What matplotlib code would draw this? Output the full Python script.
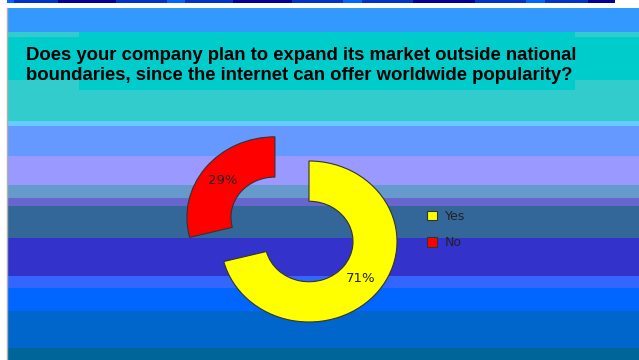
import matplotlib
matplotlib.use('Agg')
import matplotlib.pyplot as plt
from matplotlib.patches import Rectangle

# survey answers
labels = ['Yes', 'No']
shares = [71, 29]
slice_colors = ['#FFFF00', '#FF0000']
question = ('Does your company plan to expand its market outside national\n'
            'boundaries, since the internet can offer worldwide popularity?')

# background stripes: (top, bottom, colour) in pixels
stripes = [
    (8, 32, '#3399FF'),
    (32, 37, '#33CCCC'),
    (37, 80, '#00CCCC'),
    (80, 121, '#33CCCC'),
    (121, 126, '#66CCFF'),
    (126, 156, '#6699FF'),
    (156, 185, '#9999FF'),
    (185, 198, '#6699CC'),
    (198, 206, '#6666CC'),
    (206, 238, '#336699'),
    (238, 276, '#3333CC'),
    (276, 288, '#3366FF'),
    (288, 311, '#0066FF'),
    (311, 348, '#0066CC'),
    (348, 360, '#006699'),
]
# thin header bar blocks: (left, width, colour)
header = [
    (7, 7, '#0066FF'), (14, 44, '#0033CC'), (58, 58, '#000099'),
    (116, 51, '#0033CC'), (167, 18, '#0066FF'), (185, 48, '#0033CC'),
    (233, 59, '#000099'), (292, 51, '#0033CC'), (343, 19, '#0066FF'),
    (362, 51, '#0033CC'), (413, 62, '#000099'), (475, 51, '#0033CC'),
    (526, 19, '#0066FF'), (545, 43, '#0033CC'), (588, 27, '#000099'),
]

W, H = 639, 360
fig = plt.figure(figsize=(W / 100, H / 100), dpi=100)
fig.patch.set_facecolor('white')

bg = fig.add_axes([0, 0, 1, 1])
bg.set_xlim(0, W)
bg.set_ylim(H, 0)
bg.axis('off')

for top, bottom, c in stripes:
    bg.add_patch(Rectangle((7, top), W - 7, bottom - top, color=c, lw=0))
bg.broken_barh([(x, w) for x, w, _ in header], (0, 2.7),
               facecolors=[c for _, _, c in header], lw=0)
bg.plot([6.5, 6.5], [8, H], color='#B0B0B0', lw=1)

# title panel
bg.add_patch(Rectangle((79, 32), 496, 58, color='#00CCCC', lw=0))
bg.text(26, 46.5, question, fontfamily='Liberation Sans', fontweight='bold',
        fontsize=13.35, color='black', va='top', ha='left', linespacing=1.26)

# donut
cx, cy, rx, ry = 309, 241.5, 88, 80.5
lim = 1.6
ax = fig.add_axes([(cx - lim * rx) / W, (H - cy - lim * ry) / H,
                   2 * lim * rx / W, 2 * lim * ry / H])
wedges, texts, autotexts = ax.pie(
    shares, colors=slice_colors, startangle=90, counterclock=False,
    explode=[0, 0.49], autopct='%1.0f%%', pctdistance=0.75,
    wedgeprops=dict(width=0.5, edgecolor='#333333', linewidth=0.8),
    textprops=dict(fontsize=9.5, color='#222222'))
ax.set_aspect('auto')
ax.set_xlim(-lim, lim)
ax.set_ylim(-lim, lim)
ax.set_facecolor('none')
ax.axis('off')

leg = bg.legend(wedges, labels, loc='center left',
                bbox_to_anchor=(427, 229.5), bbox_transform=bg.transData,
                frameon=False, fontsize=9, handlelength=0.8, handleheight=0.8,
                handletextpad=0.6, labelspacing=1.1, borderpad=0,
                borderaxespad=0)
for t in leg.get_texts():
    t.set_color('#222222')

fig.savefig('out.png', dpi=100)
